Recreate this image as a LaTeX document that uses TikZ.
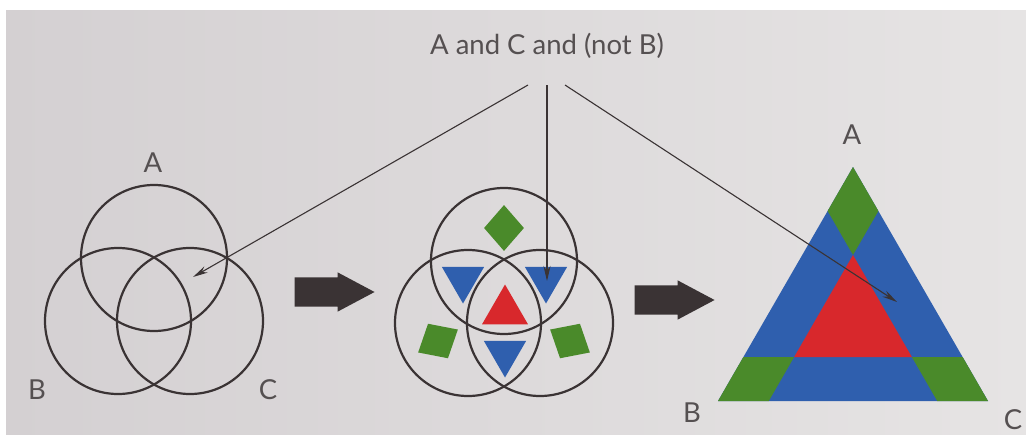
\documentclass[tikz,border=0pt]{standalone}
\usepackage{fontspec}
\setmainfont{Lato}
\usetikzlibrary{shapes.geometric, shapes.arrows, arrows.meta, calc}
\definecolor{papelosc}{HTML}{D4D0D2}
\definecolor{papelcla}{HTML}{E6E4E4}
\definecolor{tinta}{HTML}{3A3334}
\definecolor{grisletra}{HTML}{555051}
\definecolor{azul}{HTML}{2F5FAE}
\definecolor{verde}{HTML}{4A8A2A}
\definecolor{rojo}{HTML}{D8282C}
\tikzset{
  conjunto/.style={circle, draw=tinta, line width=2.2pt, minimum size=146pt, inner sep=0pt},
  rotulo/.style={text=grisletra, font=\fontsize{27.5}{32}\selectfont, inner sep=0pt},
  rombo/.style={diamond, fill=verde, minimum width=40pt, minimum height=46pt, inner sep=0pt},
  trib/.style={regular polygon, regular polygon sides=3, shape border rotate=180,
               fill=azul, minimum size=49pt, inner sep=0pt},
  trir/.style={regular polygon, regular polygon sides=3, fill=rojo, minimum size=53pt, inner sep=0pt},
  flecha/.style={single arrow, fill=tinta, minimum height=80pt, inner xsep=0pt, inner ysep=14.5pt,
                 single arrow head extend=5pt, single arrow tip angle=56, anchor=tip},
  arrow/.style={line width=1.1pt, -{Stealth[length=15pt,width=7pt]}, color=tinta}
}

\begin{document}
\begin{tikzpicture}[x=1pt, y=-1pt]
  \useasboundingbox (0,0) rectangle (1026,434);
  \fill[white] (0,0) rectangle (1026,434);
  \shade[left color=papelosc, right color=papelcla] (6,10) rectangle (1026,434);

  % consulta
  \node (query) [rotulo, anchor=base] at (547,54) {A and C and (not B)};

  % diagrama de Venn simple
  \node (vA) [conjunto] at (154,258) {};
  \node (vB) [conjunto] at (118,321) {};
  \node (vC) [conjunto] at (190,321) {};
  \node (lA) [rotulo] at (153,163) {A};
  \node (lB) [rotulo] at (37,390) {B};
  \node (lC) [rotulo] at (268,390) {C};

  \node (f1) [flecha] at (375,292) {};

  % diagrama de Venn con regiones
  \node (rA) [rombo] at (504,228) {};
  \node (rB) [rombo, rotate=-60] at (438,341) {};
  \node (rC) [rombo, rotate=60] at (570,341) {};
  \node (tAB) [trib] at (463,279) {};
  \node (tAC) [trib] at (546,279) {};
  \node (tBC) [trib] at (505,353) {};
  \node (tABC) [trir] at (505,311) {};
  \node (mA) [conjunto] at (504,261) {};
  \node (mB) [conjunto] at (468,323) {};
  \node (mC) [conjunto] at (540,323) {};

  \node (f2) [flecha] at (715,300) {};

  % triangulo
  \coordinate (tA) at (853,167);
  \coordinate (tB) at (718,401);
  \coordinate (tC) at (988,401);
  \fill[azul] (tA) -- (tB) -- (tC) -- cycle;
  \fill[verde] (tA) -- (barycentric cs:tA=0.812,tB=0.188) -- (barycentric cs:tA=0.624,tB=0.188,tC=0.188)
               -- (barycentric cs:tA=0.812,tC=0.188) -- cycle;
  \fill[verde] (tB) -- (barycentric cs:tB=0.812,tA=0.188) -- (barycentric cs:tB=0.624,tA=0.188,tC=0.188)
               -- (barycentric cs:tB=0.812,tC=0.188) -- cycle;
  \fill[verde] (tC) -- (barycentric cs:tC=0.812,tA=0.188) -- (barycentric cs:tC=0.624,tA=0.188,tB=0.188)
               -- (barycentric cs:tC=0.812,tB=0.188) -- cycle;
  \fill[rojo] (barycentric cs:tA=0.624,tB=0.188,tC=0.188) -- (barycentric cs:tB=0.624,tA=0.188,tC=0.188)
              -- (barycentric cs:tC=0.624,tA=0.188,tB=0.188) -- cycle;
  \node (xA) [rotulo] at (852,135) {A};
  \node (xB) [rotulo] at (692,413) {B};
  \node (xC) [rotulo] at (1013,420) {C};

  % flechas de la consulta
  \coordinate (s1) at (528,85); \coordinate (s2) at (547,85); \coordinate (s3) at (565,85);
  \coordinate (e1) at (193,277); \coordinate (e2) at (547,281); \coordinate (e3) at (897,302);
  \draw [arrow] (s1) -- (e1);
  \draw [arrow] (s2) -- (e2);
  \draw [arrow] (s3) -- (e3);
\end{tikzpicture}
\end{document}
